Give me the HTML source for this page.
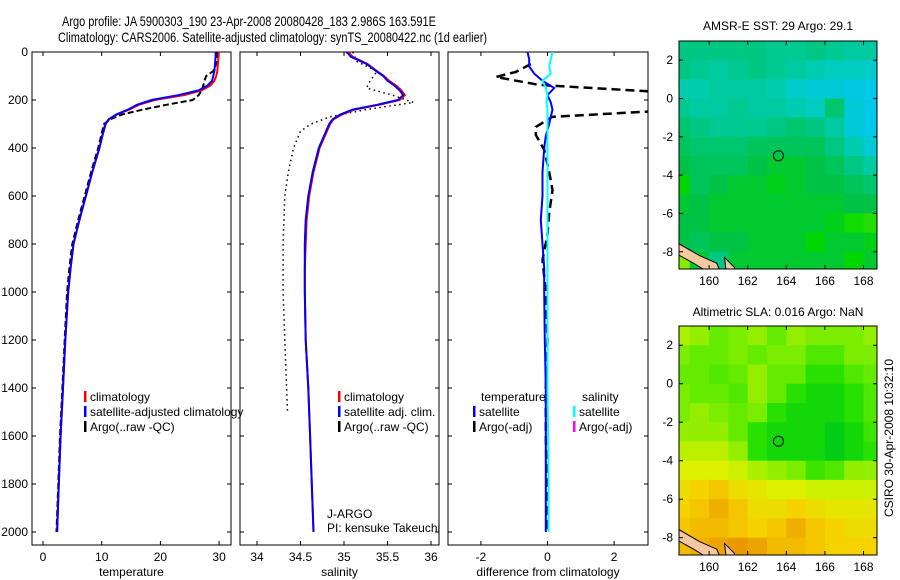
<!DOCTYPE html>
<html><head><meta charset="utf-8"><style>
html,body{margin:0;padding:0;background:#fff;}
svg{display:block;font-family:"Liberation Sans",sans-serif;}
</style></head><body>
<svg id="fig" width="900" height="580" viewBox="0 0 900 580">
<defs>
<clipPath id="c1"><rect x="32" y="52" width="199" height="493"/></clipPath>
<clipPath id="c2"><rect x="240" y="52" width="199" height="493"/></clipPath>
<clipPath id="c3"><rect x="448" y="52" width="200" height="493"/></clipPath>
<clipPath id="cm1"><rect x="679" y="41" width="198" height="228"/></clipPath>
<clipPath id="cm2"><rect x="679" y="326" width="198" height="229"/></clipPath>
</defs>
<text x="62" y="26" font-size="14" textLength="374" lengthAdjust="spacingAndGlyphs">Argo profile: JA 5900303_190 23-Apr-2008 20080428_183 2.986S 163.591E</text>
<text x="58" y="42" font-size="14" textLength="429" lengthAdjust="spacingAndGlyphs">Climatology: CARS2006. Satellite-adjusted climatology: synTS_20080422.nc (1d earlier)</text>
<g id="g"></g>
</svg>
<script>
// ---------- data ----------
const depths = [0,20,50,80,100,120,140,160,180,200,220,240,260,280,300,350,400,500,600,700,800,900,1000,1200,1400,1600,1800,2000];
const tempClim = [29.9,29.9,29.8,29.7,29.5,29.2,28.5,27.0,24.0,19.0,16.3,14.7,12.6,11.3,10.7,10.1,9.6,8.4,7.3,6.2,5.2,4.7,4.3,3.8,3.4,3.0,2.7,2.4];
const tempSat = [29.4,29.4,29.3,29.2,29.0,28.8,28.0,26.5,23.0,18.5,16.0,14.5,12.5,11.2,10.6,10.1,9.6,8.4,7.3,6.2,5.2,4.7,4.3,3.8,3.4,3.0,2.7,2.4];
const tempArgo = [29.6,29.6,29.5,29.0,27.8,27.5,27.3,27.0,26.5,25.5,21.0,17.0,13.5,11.5,10.4,9.9,9.4,8.2,7.1,6.0,5.0,4.5,4.1,3.7,3.3,2.9,2.6,2.3];
const salClim = [35.05,35.1,35.27,35.38,35.46,35.52,35.6,35.66,35.7,35.64,35.4,35.12,34.98,34.88,34.84,34.78,34.72,34.65,34.6,34.57,34.56,34.55,34.55,34.56,34.59,34.61,34.63,34.65];
const salSat = [35.03,35.08,35.26,35.37,35.45,35.5,35.58,35.64,35.68,35.62,35.38,35.1,34.96,34.87,34.83,34.77,34.71,34.64,34.59,34.56,34.55,34.55,34.55,34.56,34.59,34.61,34.63,34.65];
const salArgoDepth = [0,40,80,120,150,180,210,240,270,300,330,400,500,600,800,1000,1200,1500];
const salArgo = [35.1,35.15,35.38,35.3,35.26,35.56,35.8,35.25,34.84,34.62,34.5,34.42,34.36,34.32,34.3,34.3,34.32,34.35];
const diffDepth = [0,30,60,90,120,150,180,210,240,270,300,350,400,500,600,700,800,900,1000,1200,1400,1600,1800,2000];
const diffTempSat = [-0.6,-0.55,-0.55,-0.4,-0.15,0.2,0.0,0.1,0.15,0.1,0.05,-0.05,-0.1,-0.15,-0.15,-0.2,-0.15,-0.1,-0.1,-0.08,-0.05,-0.05,-0.05,-0.05];
const diffSalSat = [0.15,0.1,0.05,0.1,-0.15,-0.05,0.0,-0.03,0.0,0.0,0.0,0.0,0.0,0.0,0.0,0.0,0.0,0.0,0.0,0.0,0.0,0.02,0.03,0.03];
const diffArgoDepth = [50,83,104,137,180,237,270,312,345,408,500,575,670,760,867,1000,1200,1400,1600,1800,2000];
const diffArgo = [-0.5,-0.95,-1.55,-0.25,5.0,4.5,0.15,-0.35,-0.35,-0.1,0.05,0.15,0.05,0.0,-0.15,-0.05,0.0,-0.05,-0.05,-0.02,0.0];
const depthTicks = [0,200,400,600,800,1000,1200,1400,1600,1800,2000];
const tempTicks = [0,10,20,30];
const salTicks = [34,34.5,35,35.5,36];
const diffTicks = [-2,0,2];
const mapLons = [158,159,160,161,162,163,164,165,166,167,168];
const mapLats = [3,2,1,0,-1,-2,-3,-4,-5,-6,-7,-8];
const lonTicks = [160,162,164,166,168];
const latTicks = [2,0,-2,-4,-6,-8];
const sst = [
[29.0,29.0,29.0,29.0,29.0,28.95,28.95,29.0,28.95,28.9,28.9],
[29.0,28.95,28.9,28.95,29.0,28.95,28.9,28.85,28.8,28.8,28.75],
[28.85,28.85,28.9,28.9,28.9,28.85,28.75,28.7,28.7,28.65,28.6],
[28.95,28.9,28.9,28.95,28.9,28.9,28.85,28.8,29.05,28.7,28.6],
[29.05,29.0,28.95,28.95,28.95,29.0,29.05,29.0,28.9,28.7,28.6],
[29.1,29.05,29.05,29.05,29.1,29.1,29.1,29.1,29.0,28.85,28.7],
[29.15,29.1,29.1,29.1,29.15,29.2,29.2,29.15,29.1,29.0,28.9],
[29.3,29.1,29.15,29.2,29.2,29.25,29.2,29.15,29.15,29.1,29.05],
[29.2,29.15,29.2,29.2,29.2,29.2,29.2,29.2,29.2,29.15,29.15],
[29.15,29.15,29.2,29.2,29.2,29.2,29.2,29.2,29.25,29.35,29.4],
[29.15,29.1,29.15,29.15,29.2,29.2,29.2,29.3,29.2,29.2,29.25],
[29.6,29.2,29.0,29.2,29.2,29.2,29.2,29.2,29.2,29.3,29.2]];
const sla = [
[0.06,0.05,0.03,0.04,0.05,0.03,0.05,0.04,0.04,0.04,0.05],
[0.04,0.03,0.03,0.04,0.03,0.04,0.04,0.02,0.02,0.04,0.04],
[0.03,0.03,0.02,0.03,0.05,0.03,0.03,0.0,0.0,0.02,0.03],
[0.04,0.03,0.03,0.02,0.05,0.03,0.0,-0.01,-0.01,0.0,0.02],
[0.04,0.05,0.04,0.03,0.04,0.0,-0.01,-0.01,-0.01,0.0,0.02],
[0.05,0.05,0.05,0.03,0.0,-0.01,-0.01,-0.01,-0.02,-0.01,0.01],
[0.07,0.07,0.07,0.05,0.0,-0.01,-0.01,-0.01,-0.02,-0.01,0.0],
[0.09,0.09,0.09,0.08,0.06,0.05,0.04,0.01,0.02,0.05,0.05],
[0.11,0.12,0.13,0.11,0.10,0.09,0.09,0.08,0.08,0.08,0.08],
[0.12,0.13,0.15,0.13,0.11,0.11,0.12,0.11,0.10,0.10,0.10],
[0.13,0.14,0.14,0.13,0.12,0.13,0.15,0.13,0.12,0.11,0.11],
[0.14,0.15,0.16,0.17,0.16,0.14,0.14,0.13,0.12,0.12,0.12]];
const floatLon = 163.591, floatLat = -2.986;

// ---------- helpers ----------
const NS="http://www.w3.org/2000/svg";
const root=document.getElementById('g');
function mk(tag,attrs,parent){const e=document.createElementNS(NS,tag);for(const k in attrs)e.setAttribute(k,attrs[k]);(parent||root).appendChild(e);return e;}
function txt(x,y,s,size,anchor,parent){const t=mk('text',{x:x,y:y,'font-size':size||12,'text-anchor':anchor||'start'},parent);t.textContent=s;return t;}
const Y=d=>52+d*0.24;

function axesFrame(x0,x1,name,ticks,xf,labelFmt,xlabel){
  const f=mk('rect',{x:x0,y:52,width:x1-x0,height:493,fill:'none',stroke:'#000','stroke-width':1});
  
  
  depthTicks.forEach(d=>{
    mk('line',{x1:x0,x2:x0+4,y1:Y(d),y2:Y(d),stroke:'#000'});
    mk('line',{x1:x1-4,x2:x1,y1:Y(d),y2:Y(d),stroke:'#000'});
  });
  ticks.forEach(v=>{
    const x=xf(v);
    mk('line',{x1:x,x2:x,y1:545,y2:541,stroke:'#000'});
    mk('line',{x1:x,x2:x,y1:52,y2:56,stroke:'#000'});
    const t=txt(x,561,labelFmt(v),12,'middle');
    
    
  });
  const xl=txt((x0+x1)/2,576,xlabel,12,'middle');
  
  
}
function line(xs,ds,xf,color,clip,name,extra){
  const pts=xs.map((v,i)=>xf(v).toFixed(1)+','+Y(ds[i]).toFixed(1)).join(' ');
  const p=mk('polyline',Object.assign({points:pts,fill:'none',stroke:color,'stroke-width':2,'clip-path':'url(#'+clip+')'},extra||{}));
  
  
}
function legend(x,y,color,label,name){
  mk('rect',{x:x,y:y-10,width:2.5,height:11,fill:color});
  const t=txt(x+6,y,label,12);
  
  
}

// ---------- panel 1: temperature ----------
const xT=v=>43+v*5.87;
axesFrame(32,231,'temperature-panel',tempTicks,xT,v=>String(v),'temperature');
depthTicks.forEach(d=>{const t=txt(28,Y(d)+4,String(d),12,'end');
  
  });
line(tempArgo,depths,xT,'#000','c1','temp-argo-line',{'stroke-dasharray':'6,3'});
line(tempClim,depths,xT,'#f00','c1','temp-climatology-line');
line(tempSat,depths,xT,'#00f','c1','temp-satellite-line');
legend(84,401,'#f00','climatology','legend-climatology');
legend(84,416,'#00f','satellite-adjusted climatology','legend-satellite-adjusted');
legend(84,431,'#000','Argo(..raw -QC)','legend-argo-raw');

// ---------- panel 2: salinity ----------
const xS=v=>257+(v-34)*87;
axesFrame(240,439,'salinity-panel',salTicks,xS,v=>String(v),'salinity');
line(salArgo,salArgoDepth,xS,'#000','c2','sal-argo-line',{'stroke-width':1.5,'stroke-dasharray':'1.5,3.5'});
line(salClim,depths,xS,'#f00','c2','sal-climatology-line');
line(salSat,depths,xS,'#00f','c2','sal-satellite-line');
legend(338,401,'#f00','climatology','legend-sal-climatology');
legend(338,416,'#00f','satellite adj. clim.','legend-sal-satellite');
legend(338,431,'#000','Argo(..raw -QC)','legend-sal-argo');
const ja=txt(327,518,'J-ARGO',12);
const pi=txt(327,532,'PI: kensuke Takeuchi',12);

// ---------- panel 3: differences ----------
const xD=v=>547.5+v*33.3;
axesFrame(448,648,'difference-panel',diffTicks,xD,v=>String(v),'difference from climatology');
line(diffArgo,diffArgoDepth,xD,'#000','c3','diff-temp-argo-line',{'stroke-width':2.5,'stroke-dasharray':'9,5'});
line(diffTempSat,diffDepth,xD,'#00f','c3','diff-temp-satellite-line');
line(diffSalSat,diffDepth,xD,'#0ff','c3','diff-sal-satellite-line');
const lt=txt(481,401,'temperature',12);
const ls=txt(582,401,'salinity',12);
legend(473,416,'#00f','satellite','legend-temp-satellite');
legend(473,431,'#000','Argo(-adj)','legend-temp-argo');
legend(573,416,'#0ff','satellite','legend-sal-satellite-diff');
legend(573,431,'#f0f','Argo(-adj)','legend-sal-argo-diff');

// ---------- maps ----------
function rgb(a){return 'rgb('+a.map(c=>Math.round(c)).join(',')+')';}
function colorOf(stops,v){
  if(v<=stops[0][0])return rgb(stops[0][1]);
  for(let i=1;i<stops.length;i++){if(v<=stops[i][0]){const a=stops[i-1],b=stops[i],t=(v-a[0])/(b[0]-a[0]);
    return rgb(a[1].map((c,k)=>c+(b[1][k]-c)*t));}}
  return rgb(stops[stops.length-1][1]);
}
const sstStops=[[28.6,[0,200,235]],[28.8,[0,205,190]],[29.0,[0,200,130]],[29.15,[0,195,70]],[29.3,[0,215,0]],[29.5,[70,230,0]],[29.7,[200,240,0]]];
const slaStops=[[-0.02,[0,205,20]],[0.0,[40,225,0]],[0.03,[100,235,0]],[0.06,[170,240,0]],[0.09,[220,240,0]],[0.12,[245,210,0]],[0.15,[240,175,0]],[0.18,[230,140,0]]];

function drawMap(top,bottom,grid,stops,clip,name,title,titleY){
  const L=679,R=877,lon0=158.44,lat0=3.0;
  const px=19.3, py=(bottom-top)/11.9;
  const X=lon=>L+(lon-lon0)*px, YY=lat=>top+(lat0-lat)*py;
  const g=mk('g',{'clip-path':'url(#'+clip+')'});
  
  
  mk('rect',{x:L,y:top,width:R-L,height:bottom-top,fill:'#fff'},g);
  grid.forEach((row,i)=>row.forEach((v,j)=>{
    const r=mk('rect',{x:X(mapLons[j]).toFixed(1),y:YY(mapLats[i]).toFixed(1),width:px+0.6,height:py+0.6,fill:colorOf(stops,v)},g);
    
    
  }));
  const land=mk('path',{d:`M${X(158.3)},${YY(-7.5)} L${X(159.5)},${YY(-8.2)} L${X(160.4)},${YY(-8.6)} L${X(160.6)},${YY(-9.1)} L${X(160.0)},${YY(-9.1)} L${X(159.2)},${YY(-8.6)} L${X(158.3)},${YY(-8.1)} Z`,fill:'#f5c8a0',stroke:'#000','stroke-width':1},g);
  
  const land2=mk('path',{d:`M${X(160.8)},${YY(-8.3)} L${X(161.3)},${YY(-8.8)} L${X(161.4)},${YY(-9.2)} L${X(160.9)},${YY(-9.2)} Z`,fill:'#f5c8a0',stroke:'#000','stroke-width':1},g);
  
  const c=mk('circle',{cx:X(floatLon),cy:YY(floatLat),r:5,fill:'none',stroke:'#000','stroke-width':1});
  
  const f=mk('rect',{x:L,y:top,width:R-L,height:bottom-top,fill:'none',stroke:'#000'});
  
  latTicks.forEach(v=>{const y=YY(v);
    mk('line',{x1:L,x2:L+4,y1:y,y2:y,stroke:'#000'});mk('line',{x1:R-4,x2:R,y1:y,y2:y,stroke:'#000'});
    const t=txt(673,y+4,String(v),12,'end');});
  lonTicks.forEach(v=>{const x=X(v);
    mk('line',{x1:x,x2:x,y1:top,y2:top+4,stroke:'#000'});mk('line',{x1:x,x2:x,y1:bottom-4,y2:bottom,stroke:'#000'});
    const t=txt(x,bottom+16,String(v),12,'middle');});
  const tt=txt(778,titleY,title,12,'middle');
}
drawMap(41,269,sst,sstStops,'cm1','sst-map','AMSR-E SST: 29 Argo: 29.1',30);
drawMap(326,555,sla,slaStops,'cm2','sla-map','Altimetric SLA: 0.016 Argo: NaN',316);
const cs=txt(0,0,'CSIRO 30-Apr-2008 10:32:10',12,'middle');
cs.setAttribute('transform','translate(893,438) rotate(-90)');


</script>
</body></html>
